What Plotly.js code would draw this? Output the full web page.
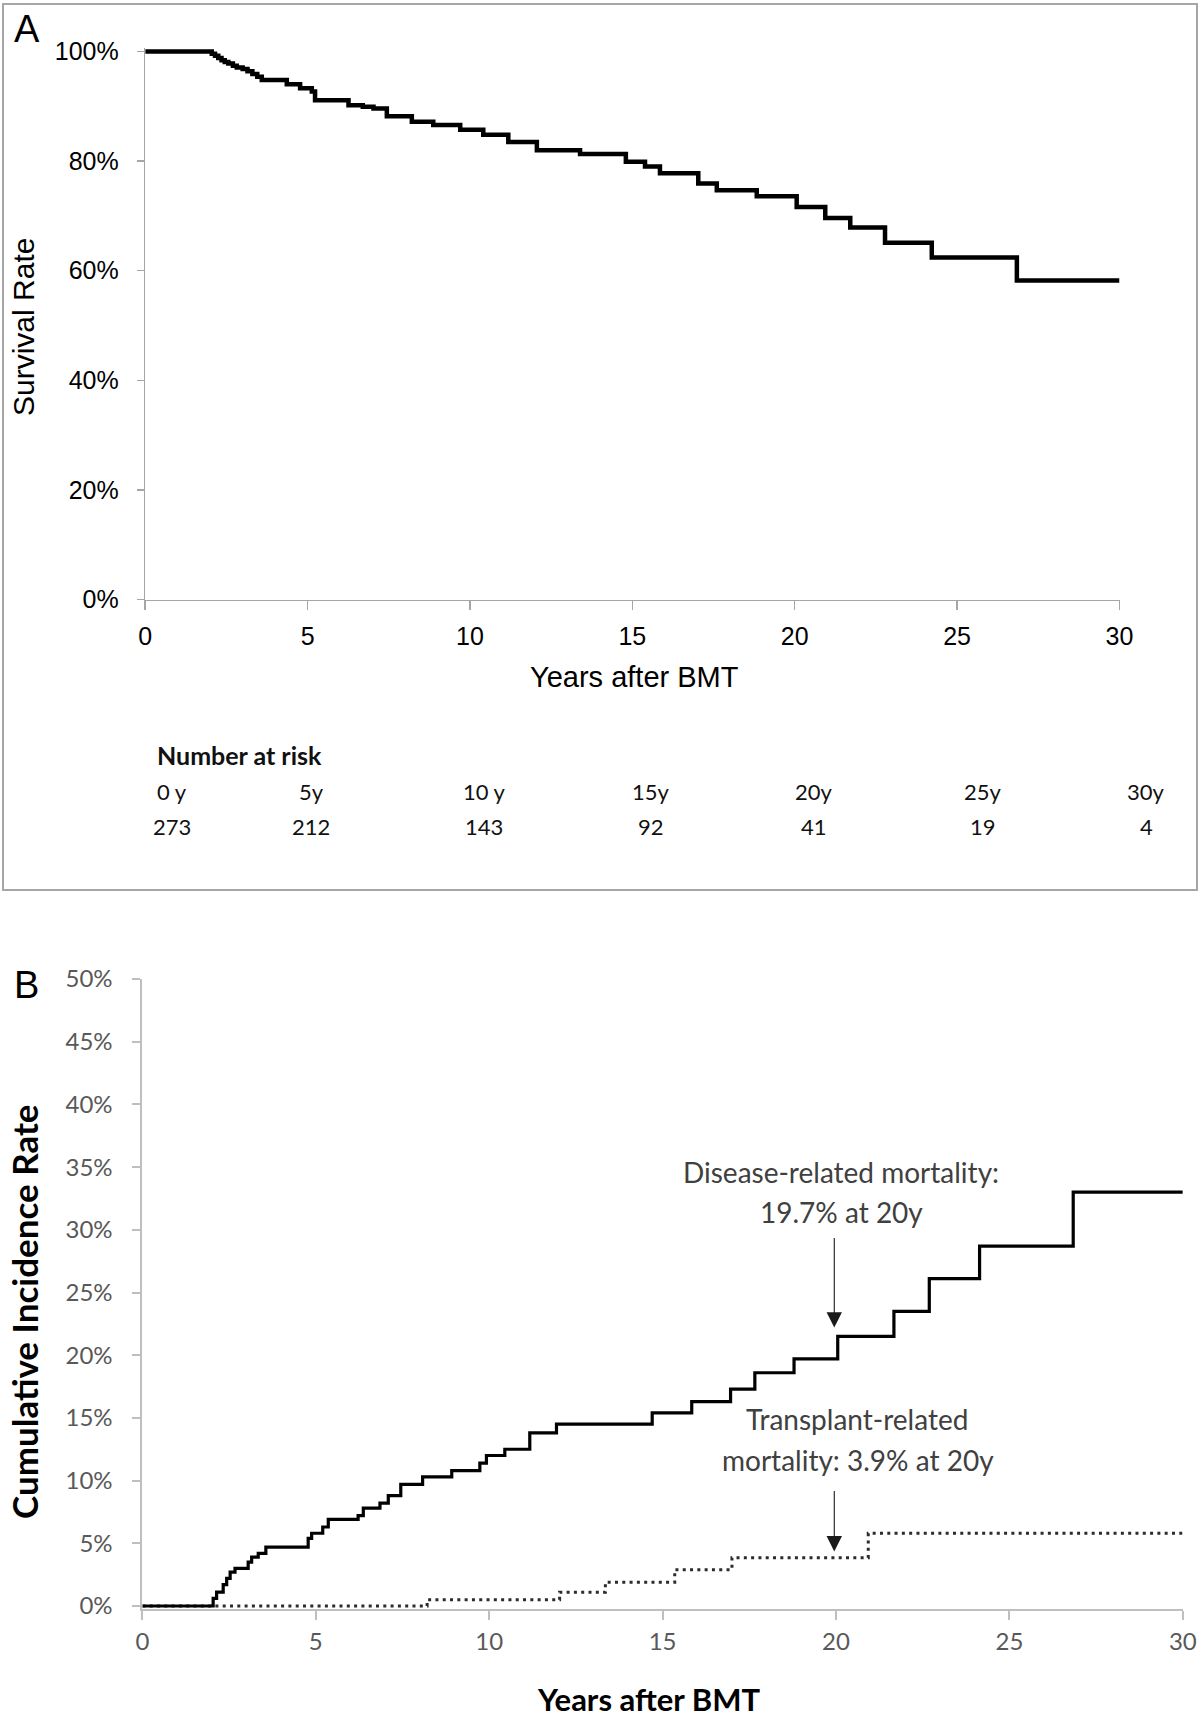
<!DOCTYPE html>
<html>
<head>
<meta charset="utf-8">
<script src="https://cdn.plot.ly/plotly-3.0.1.min.js"></script>
<style>html,body{margin:0;padding:0;background:#fff}</style>
</head>
<body>
<div id="chart" style="width:1200px;height:1719px"></div>
<script>
// Panel A - overall survival after BMT (%)
const survYears = [0, 2.05, 2.15, 2.25, 2.35, 2.45, 2.56, 2.70, 2.82, 3.00, 3.15, 3.30, 3.45, 3.59,
    4.36, 4.77, 5.13, 5.23, 6.26, 6.70, 7.03, 7.44, 8.21, 8.87, 9.70, 10.41, 11.18, 12.06, 13.39,
    14.80, 15.39, 15.85, 17.03, 17.60, 18.83, 20.06, 20.94, 21.71, 22.78, 24.22, 26.84, 30];
const survRate = [100, 99.6, 99.2, 98.8, 98.4, 98.1, 97.8, 97.4, 97.1, 96.8, 96.4, 95.9, 95.4, 94.8,
    94.0, 93.3, 92.7, 91.1, 90.2, 89.9, 89.6, 88.2, 87.2, 86.6, 85.7, 84.8, 83.5, 82.0, 81.3,
    79.9, 79.0, 77.8, 75.9, 74.7, 73.6, 71.6, 69.6, 67.9, 65.1, 62.4, 58.2, 58.2];

// Panel A - number at risk table
const riskLabels = ['0 y', '5y', '10 y', '15y', '20y', '25y', '30y'];
const riskCounts = [273, 212, 143, 92, 41, 19, 4];

// Panel B - cumulative incidence (%)
const drmYears = [0, 2.04, 2.14, 2.33, 2.43, 2.53, 2.67, 3.05, 3.15, 3.34, 3.56, 4.78, 4.88, 5.20, 5.36,
    6.22, 6.37, 6.85, 7.09, 7.45, 8.08, 8.92, 9.73, 9.92, 10.45, 11.17, 11.94, 14.70, 15.84, 16.96,
    17.66, 18.79, 20.05, 21.67, 22.69, 24.14, 26.84, 30];
const drmRate = [0, 0.6, 1.1, 1.7, 2.2, 2.7, 3.0, 3.5, 3.9, 4.2, 4.7, 5.4, 5.8, 6.3, 6.9,
    7.2, 7.8, 8.2, 8.8, 9.7, 10.3, 10.8, 11.4, 12.0, 12.5, 13.8, 14.5, 15.4, 16.3, 17.3,
    18.6, 19.7, 21.5, 23.5, 26.1, 28.7, 33.0, 33.0];
const trmYears = [0, 8.21, 12.03, 13.35, 15.35, 17.0, 20.93, 30];
const trmRate = [0, 0.5, 1.1, 1.9, 2.9, 3.85, 5.8, 5.8];

const yearTicks = [0, 5, 10, 15, 20, 25, 30];
const survTicks = [0, 20, 40, 60, 80, 100];
const incTicks = [0, 5, 10, 15, 20, 25, 30, 35, 40, 45, 50];

// pixel -> paper helpers (page is 1200 x 1719, no margins)
const W = 1200, H = 1719;
const px = x => x / W;
const py = y => 1 - y / H;

const fontA = 'Liberation Sans, Arial, sans-serif';
const fontB = 'Lato, Open Sans, sans-serif';

const traces = [
    {
        x: survYears, y: survRate, xaxis: 'x', yaxis: 'y',
        mode: 'lines', line: { shape: 'hv', color: '#000', width: 4.5 },
        hoverinfo: 'skip'
    },
    {
        x: trmYears, y: trmRate, xaxis: 'x2', yaxis: 'y2',
        mode: 'lines', line: { shape: 'hv', color: '#2b2b2b', width: 3, dash: '3px,4.3px' },
        hoverinfo: 'skip'
    },
    {
        x: drmYears, y: drmRate, xaxis: 'x2', yaxis: 'y2',
        mode: 'lines', line: { shape: 'hv', color: '#000', width: 3.2 },
        hoverinfo: 'skip'
    }
];

// annotations: panel letters, titles, number at risk, arrows
const ann = [];
ann.push({ text: 'A', x: px(12), y: py(29), xref: 'paper', yref: 'paper', xanchor: 'left', yanchor: 'middle',
    showarrow: false, font: { family: fontA, size: 38, color: '#000' } });
ann.push({ text: 'B', x: px(12), y: py(985), xref: 'paper', yref: 'paper', xanchor: 'left', yanchor: 'middle',
    showarrow: false, font: { family: fontA, size: 38, color: '#000' } });
ann.push({ text: 'Survival Rate', x: px(24), y: py(327), xref: 'paper', yref: 'paper', textangle: -90,
    xanchor: 'center', yanchor: 'middle', showarrow: false, font: { family: fontA, size: 30, color: '#000' } });
ann.push({ text: 'Years after BMT', x: px(634), y: py(677), xref: 'paper', yref: 'paper',
    xanchor: 'center', yanchor: 'middle', showarrow: false, font: { family: fontA, size: 29, color: '#000' } });
ann.push({ text: '<b>Number at risk</b>', x: px(155), y: py(755), xref: 'paper', yref: 'paper',
    xanchor: 'left', yanchor: 'middle', showarrow: false, font: { family: fontB, size: 25, color: '#111' } });

const riskColX = [172, 311, 484, 651, 814, 983, 1146];
riskLabels.forEach((lab, i) => {
    ann.push({ text: lab, x: px(riskColX[i]), y: py(791), xref: 'paper', yref: 'paper',
        xanchor: 'center', yanchor: 'middle', showarrow: false, font: { family: fontB, size: 22, color: '#111' } });
    ann.push({ text: String(riskCounts[i]), x: px(riskColX[i]), y: py(826), xref: 'paper', yref: 'paper',
        xanchor: 'center', yanchor: 'middle', showarrow: false, font: { family: fontB, size: 22, color: '#111' } });
});

ann.push({ text: '<b>Cumulative Incidence Rate</b>', x: px(24), y: py(1312), xref: 'paper', yref: 'paper',
    textangle: -90, xanchor: 'center', yanchor: 'middle', showarrow: false,
    font: { family: fontB, size: 35, color: '#000' } });
ann.push({ text: '<b>Years after BMT</b>', x: px(649), y: py(1699), xref: 'paper', yref: 'paper',
    xanchor: 'center', yanchor: 'middle', showarrow: false, font: { family: fontB, size: 31, color: '#000' } });

const noteFont = { family: fontB, size: 28, color: '#404040' };
ann.push({ text: 'Disease-related mortality:', x: px(841), y: py(1172), xref: 'paper', yref: 'paper',
    xanchor: 'center', yanchor: 'middle', showarrow: false, font: noteFont });
ann.push({ text: '19.7% at 20y', x: px(841), y: py(1212), xref: 'paper', yref: 'paper',
    xanchor: 'center', yanchor: 'middle', showarrow: false, font: noteFont });
ann.push({ text: 'Transplant-related', x: px(857), y: py(1419), xref: 'paper', yref: 'paper',
    xanchor: 'center', yanchor: 'middle', showarrow: false, font: noteFont });
ann.push({ text: 'mortality: 3.9% at 20y', x: px(858), y: py(1460), xref: 'paper', yref: 'paper',
    xanchor: 'center', yanchor: 'middle', showarrow: false, font: noteFont });

// arrows pointing at the 20-year values
ann.push({ text: '', x: 19.95, y: 22.2, xref: 'x2', yref: 'y2', ax: 0, ay: -91,
    showarrow: true, arrowhead: 2, arrowsize: 2.8, arrowwidth: 1.1, arrowcolor: '#1a1a1a' });
ann.push({ text: '', x: 19.95, y: 4.35, xref: 'x2', yref: 'y2', ax: 0, ay: -62,
    showarrow: true, arrowhead: 2, arrowsize: 2.8, arrowwidth: 1.1, arrowcolor: '#1a1a1a' });

const axisA = {
    showline: true, linecolor: '#a6a6a6', linewidth: 1.5,
    ticks: 'outside', tickcolor: '#a6a6a6', tickwidth: 1.5,
    showgrid: false, zeroline: false,
    tickfont: { family: fontA, size: 25, color: '#000' }
};
const axisB = {
    showline: true, linecolor: '#bfbfbf', linewidth: 2,
    ticks: 'outside', tickcolor: '#bfbfbf', tickwidth: 2,
    showgrid: false, zeroline: false,
    tickfont: { family: fontB, size: 24, color: '#595959' }
};
const pct = v => v + '%';

const layout = {
    width: W, height: H,
    margin: { l: 0, r: 0, t: 0, b: 0 },
    paper_bgcolor: '#fff', plot_bgcolor: '#fff',
    showlegend: false,
    xaxis: Object.assign({}, axisA, {
        domain: [px(145.2), px(1119.5)], range: [0, 30], anchor: 'y',
        tickmode: 'array', tickvals: yearTicks, ticktext: yearTicks.map(String),
        ticklen: 9, ticklabelstandoff: 5
    }),
    yaxis: Object.assign({}, axisA, {
        domain: [py(599.5), py(48.2)], range: [0, 100.6], anchor: 'x',
        tickmode: 'array', tickvals: survTicks, ticktext: survTicks.map(pct),
        ticklen: 7, ticklabelstandoff: 13
    }),
    xaxis2: Object.assign({}, axisB, {
        domain: [px(142.4), px(1182.8)], range: [0, 30], anchor: 'y2',
        tickmode: 'array', tickvals: yearTicks, ticktext: yearTicks.map(String),
        ticklen: 9, ticklabelstandoff: 2
    }),
    yaxis2: Object.assign({}, axisB, {
        domain: [py(1608.5), py(979)], range: [-0.2, 50], anchor: 'x2',
        tickmode: 'array', tickvals: incTicks, ticktext: incTicks.map(pct),
        ticklen: 8, ticklabelstandoff: 15
    }),
    annotations: ann,
    shapes: [
        // frame round panel A
        { type: 'rect', xref: 'paper', yref: 'paper', x0: px(3), x1: px(1197), y0: py(890), y1: py(4),
          line: { color: '#a6a6a6', width: 2 }, fillcolor: 'rgba(0,0,0,0)' }
    ]
};

Plotly.newPlot('chart', traces, layout, { staticPlot: true });
</script>
</body>
</html>
